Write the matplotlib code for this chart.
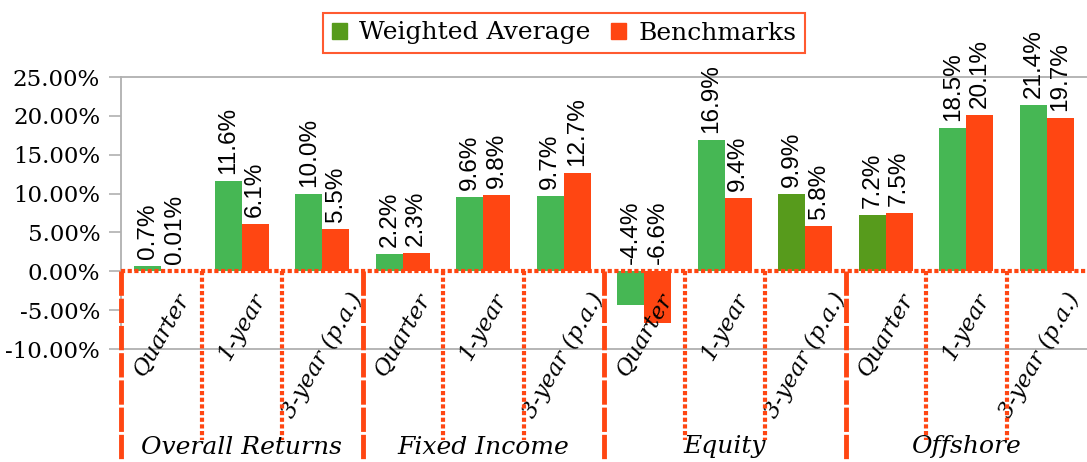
import matplotlib.pyplot as plt
from matplotlib.patches import Patch
from matplotlib.transforms import blended_transform_factory

# data
periods = ["Quarter", "1-year", "3-year (p.a.)"] * 4
groups = ["Overall Returns", "Fixed Income", "Equity", "Offshore"]
weighted = [0.7, 11.6, 10.0, 2.2, 9.6, 9.7, -4.4, 16.9, 9.9, 7.2, 18.5, 21.4]
benchmark = [0.01, 6.1, 5.5, 2.3, 9.8, 12.7, -6.6, 9.4, 5.8, 7.5, 20.1, 19.7]
weighted_labels = ["0.7%", "11.6%", "10.0%", "2.2%", "9.6%", "9.7%",
                   "-4.4%", "16.9%", "9.9%", "7.2%", "18.5%", "21.4%"]
benchmark_labels = ["0.01%", "6.1%", "5.5%", "2.3%", "9.8%", "12.7%",
                    "-6.6%", "9.4%", "5.8%", "7.5%", "20.1%", "19.7%"]
dark_bars = [8, 9]  # the two darker green bars

light_green = "#46B754"
dark_green = "#579B1C"
red = "#FF4612"
serif = "DejaVu Serif"

fig = plt.figure(figsize=(10.87, 4.62), dpi=100)
ax = fig.add_axes([121 / 1087, 1 - 349 / 462, (1087 - 121) / 1087, (349 - 77) / 462])

x = list(range(len(weighted)))
w = 0.335
gcol = [dark_green if i in dark_bars else light_green for i in x]
ax.bar([i - w / 2 for i in x], weighted, w, color=gcol, zorder=2)
ax.bar([i + w / 2 for i in x], benchmark, w, color=red, zorder=2)

for i in x:
    ax.annotate(weighted_labels[i], (i - w / 2, max(weighted[i], 0)), xytext=(0, 5),
                textcoords="offset points", rotation=90, ha="center", va="bottom",
                fontsize=17.5, family="Liberation Sans", annotation_clip=False)
    ax.annotate(benchmark_labels[i], (i + w / 2, max(benchmark[i], 0)), xytext=(0, 5),
                textcoords="offset points", rotation=90, ha="center", va="bottom",
                fontsize=17.5, family="Liberation Sans", annotation_clip=False)
    # last label sits at the figure edge, nudge it in so it is not cut
    dx = -5 if i == len(x) - 1 else 0
    ax.annotate(periods[i], (i, 0), xytext=(dx, -13), textcoords="offset points",
                rotation=60, ha="center", va="top", fontsize=16.5, family=serif,
                style="italic", annotation_clip=False)

ax.set_xlim(-0.5, len(x) - 0.5)
ax.set_ylim(-10, 25)
ax.set_yticks(range(-10, 26, 5))
ax.set_yticklabels([f"{v:.2f}%" for v in range(-10, 26, 5)], family=serif, fontsize=16.5)
ax.tick_params(axis="y", length=9, width=1.2, color="#B0B0B0", pad=6)
ax.set_xticks([])

for s in ["top", "bottom", "left"]:
    ax.spines[s].set_color("#B0B0B0")
    ax.spines[s].set_linewidth(1.3)
ax.spines["right"].set_visible(False)

# zero line and category separators
ax.axhline(0, color=red, lw=3, ls=(0, (1, 0.6)), zorder=3)
py = 35 / 272  # data units per pixel
for i in range(len(x)):
    if i % 3 == 0:
        ax.plot([i - 0.5, i - 0.5], [0, -(462 - 271) * py], color=red, lw=3.5,
                ls=(0, (5, 0.6)), clip_on=False, zorder=3)
    else:
        ax.plot([i - 0.5, i - 0.5], [0, -(440 - 271) * py], color=red, lw=3,
                ls=(0, (1, 0.6)), clip_on=False, zorder=3)

trans = blended_transform_factory(ax.transData, fig.transFigure)
for g, name in enumerate(groups):
    ax.text(g * 3 + 1, 1 - 447 / 462, name, transform=trans, ha="center", va="center",
            fontsize=18, family=serif, style="italic")

handles = [Patch(color=dark_green), Patch(color=red)]
leg = fig.legend(handles, ["Weighted Average", "Benchmarks"], loc="center",
                 bbox_to_anchor=(564 / 1087, 1 - 33 / 462), ncol=2, frameon=True,
                 fancybox=False, edgecolor="#FF5A30", framealpha=1,
                 prop={"family": serif, "size": 18}, handlelength=0.6, handleheight=0.6,
                 handletextpad=0.5, columnspacing=0.8, borderpad=0.35)
leg.get_frame().set_linewidth(1.5)

fig.savefig("out.png", dpi=100)
